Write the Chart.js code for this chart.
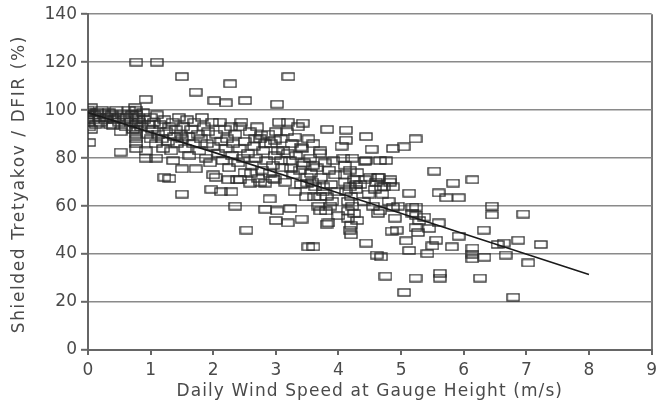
<!DOCTYPE html>
<html>
<head>
<meta charset="utf-8">
<script src="https://cdn.jsdelivr.net/npm/chart.js@4.4.1/dist/chart.umd.min.js"></script>
<style>
  html, body { margin: 0; padding: 0; background: #fff; }
  #wrap { width: 662px; height: 408px; }
</style>
</head>
<body>
<div id="wrap"><canvas id="c" width="662" height="408"></canvas></div>
<script>
// Daily catch ratio of the shielded Tretyakov gauge against the DFIR,
// plotted against daily wind speed at gauge height: [wind m/s, ratio %]
const observations = [
  [0.0,100],[0.0,98],[0.0,97],[0.0,95],[0.02,99],[0.02,93],[0.02,86.5],[0.05,92],[0.05,101],
  [0.08,96],[0.1,98],[0.12,94],[0.15,99],[0.18,97],[0.2,95],[0.22,100],[0.25,98],[0.28,96],
  [0.3,97],[0.33,99],[0.35,94],[0.38,98],[0.4,93.5],[0.42,96],[0.45,100],[0.48,97],[0.5,95],
  [0.52,91],[0.52,82.5],[0.55,98],[0.58,96],[0.6,93],
  [0.62,97],[0.65,100],[0.68,95],[0.7,98],[0.72,92],[0.75,101],[0.77,100],[0.77,98],[0.77,96],
  [0.77,94],[0.77,92],[0.77,90],[0.77,88],[0.77,86],[0.77,84],[0.77,120],[0.8,97],[0.82,95],
  [0.85,93],[0.88,99],[0.9,96],[0.92,104.5],[0.92,83],[0.92,80],[0.95,90],[0.97,94],[1.0,97],[1.0,88],
  [1.02,92],[1.05,95],[1.08,86],[1.09,80],[1.1,98],[1.1,120],[1.12,90],[1.15,94],[1.18,88],[1.2,84],
  [1.22,96],[1.22,72],[1.25,91],[1.28,87],[1.3,93],[1.3,71.5],[1.33,83],[1.35,95],[1.36,79],[1.38,89],
  [1.4,92],[1.42,86],[1.45,97],[1.48,90],[1.5,75.5],[1.5,65],[1.5,114],[1.5,88],
  [1.52,93],[1.55,84],[1.58,96],[1.6,89],[1.62,81],[1.65,92],[1.68,86],[1.7,95],[1.72,75.5],
  [1.72,107.5],[1.75,90],[1.78,83],[1.8,88],[1.82,97],[1.85,93],[1.88,80],[1.9,86],[1.92,91],
  [1.95,78],[1.97,67],[1.98,95],[2.0,73],[2.0,85],
  [2.02,104],[2.04,72],[2.05,90],[2.08,82],[2.1,95],[2.12,66],[2.13,87],[2.15,79],[2.18,92],
  [2.2,103],[2.2,84],[2.22,88],[2.24,71],[2.25,76],[2.27,111],[2.28,93],[2.29,66],[2.3,81],
  [2.32,86],[2.35,60],[2.35,90],[2.38,71],[2.4,78],[2.42,84],[2.43,93],[2.43,71],[2.45,95],
  [2.48,80],[2.5,87],[2.5,74],
  [2.51,104],[2.53,50],[2.55,82],[2.58,91],[2.59,69.6],[2.6,73.7],[2.62,77],[2.65,85],[2.67,88],
  [2.68,80],[2.7,93],[2.72,71.5],[2.75,70],[2.75,88],[2.77,89.6],[2.78,75],[2.8,83],[2.83,58.7],
  [2.83,69.6],[2.83,86],[2.85,79],[2.88,90],[2.9,63],[2.9,73.7],[2.92,86],[2.95,71.5],[2.95,77],
  [2.98,81],[2.98,87.5],[2.98,71],[3.0,54],[3.0,91],[3.02,58],[3.02,102.5],[3.03,83],
  [3.05,95],[3.08,79],[3.08,88],[3.1,76],[3.12,83],[3.15,70],[3.18,91],[3.19,53],[3.19,82],
  [3.19,95],[3.2,114],[3.22,79],[3.23,59],[3.24,75.8],[3.25,86],[3.28,73],[3.3,66],[3.3,88.8],
  [3.32,81],[3.35,93],[3.38,75],[3.4,69],[3.4,84.6],[3.41,54.6],[3.42,84],[3.43,77],[3.43,94.6],
  [3.45,78],[3.48,63.8],[3.5,72],[3.5,69.6],[3.52,43],[3.52,88],
  [3.55,80],[3.56,73.6],[3.58,70],[3.59,77],[3.6,43],[3.6,86],[3.61,63.8],[3.63,68],[3.65,76],
  [3.68,60],[3.7,82],[3.71,83],[3.71,64],[3.71,58],[3.72,72],[3.75,66],[3.76,68],[3.78,78],
  [3.8,58],[3.81,64],[3.81,52.5],[3.82,92],[3.84,53],[3.85,75],[3.87,60],[3.88,69],[3.9,62],
  [3.92,79],[3.95,73],[3.98,66],[4.0,56],
  [4.05,85],[4.08,80],[4.1,77],[4.1,73],[4.1,70],[4.12,91.7],[4.12,87.5],[4.12,66],[4.15,62],
  [4.15,58],[4.15,55],[4.18,75],[4.18,68],[4.18,50],[4.2,52],[4.2,64],[4.2,48],[4.22,80],
  [4.22,60],[4.25,71],[4.25,57],[4.28,67],[4.28,69],[4.3,54],[4.3,74],
  [4.35,69],[4.4,62],[4.42,78.7],[4.42,71],[4.44,89],[4.44,44.6],[4.44,79],[4.48,65],[4.5,72],
  [4.53,83.7],[4.55,60],[4.58,67],[4.6,70],[4.61,39.6],[4.63,57],[4.63,72],[4.65,72],[4.66,58],
  [4.66,79],[4.68,38.8],[4.68,68],[4.7,65],[4.72,68],[4.75,30.8],[4.76,79],[4.8,62],[4.82,70],
  [4.83,71],[4.85,49.6],[4.87,84],[4.87,68],[4.87,59.6],[4.9,55],[4.93,50],[4.95,60],
  [5.04,84.7],[5.05,24],[5.08,45.5],[5.13,65.4],[5.13,41.5],[5.18,57],[5.18,59.6],[5.23,88],
  [5.23,30],[5.23,51],[5.24,59.6],[5.24,56],[5.27,49],[5.29,54],[5.37,55.4],[5.42,40.2],
  [5.45,50.7],[5.5,43.4],[5.53,74.6],[5.56,45.8],[5.6,65.5],[5.6,53],[5.62,32],[5.62,30],
  [5.72,63.5],[5.81,43],[5.83,69.6],[5.92,63.5],[5.92,47.5],[6.14,71],[6.14,42.5],[6.14,40],
  [6.14,38],[6.26,30],[6.32,50],[6.33,38.7],[6.45,60],[6.45,56.3],[6.54,44],[6.64,44.6],
  [6.67,39.6],[6.79,22],[6.87,45.8],[6.95,56.7],[7.03,36.3],[7.23,44]
];

// Fitted trend of catch ratio with wind speed
const fitSpeed = [0, 2, 4, 6, 8];
const fitRatio = [99, 82.5, 65.5, 48.5, 31.5];

const xTicks = [0, 1, 2, 3, 4, 5, 6, 7, 8, 9];
const yTicks = [0, 20, 40, 60, 80, 100, 120, 140];

const xTitle = 'Daily Wind Speed at Gauge Height (m/s)';
const yTitle = 'Shielded Tretyakov / DFIR (%)';

// open rectangle used as the point marker
const marker = document.createElement('canvas');
marker.width = 14; marker.height = 9;
(function () {
  const g = marker.getContext('2d');
  g.strokeStyle = '#2a2a2a';
  g.lineWidth = 1.3;
  g.strokeRect(1, 1, 12, 7);
})();

const FONT = "'DejaVu Sans', sans-serif";
const INK = '#4a4a4a';

// axis titles, set with a little extra letter spacing
const axisTitles = {
  id: 'axisTitles',
  afterDraw(chart) {
    const { ctx, chartArea: a } = chart;
    ctx.save();
    ctx.fillStyle = INK;
    ctx.font = '17px ' + FONT;
    ctx.textAlign = 'center';
    ctx.textBaseline = 'middle';
    ctx.letterSpacing = '1.1px';
    ctx.fillText(xTitle, (a.left + a.right) / 2, 392);
    ctx.translate(20, (a.top + a.bottom) / 2 + 2);
    ctx.rotate(-Math.PI / 2);
    ctx.letterSpacing = '1.6px';
    ctx.fillText(yTitle, 0, 0);
    ctx.restore();
  }
};

new Chart(document.getElementById('c'), {
  type: 'scatter',
  data: {
    datasets: [
      {
        label: 'Observed',
        data: observations.map(p => ({ x: p[0], y: p[1] })),
        pointStyle: marker,
        pointRadius: 6,
        showLine: false,
        order: 2
      },
      {
        label: 'Fit',
        type: 'line',
        data: fitSpeed.map((s, i) => ({ x: s, y: fitRatio[i] })),
        borderColor: '#1a1a1a',
        borderWidth: 1.6,
        pointRadius: 0,
        fill: false,
        tension: 0,
        order: 1
      }
    ]
  },
  options: {
    responsive: false,
    animation: false,
    events: [],
    layout: { padding: { top: 13, right: 3, left: 0, bottom: 0 } },
    plugins: { legend: { display: false }, tooltip: { enabled: false } },
    scales: {
      x: {
        type: 'linear',
        min: 0, max: 9,
        afterBuildTicks: ax => { ax.ticks = xTicks.map(v => ({ value: v })); },
        afterFit: ax => { ax.height = 58; },
        border: { color: '#666', width: 2 },
        grid: {
          color: c => (c.tick && c.tick.value === 9) ? '#777' : 'rgba(0,0,0,0)',
          lineWidth: 2,
          drawTicks: true,
          tickLength: 5,
          tickColor: '#666',
          tickWidth: 2
        },
        ticks: { color: INK, font: { family: FONT, size: 17 }, padding: 5, maxRotation: 0 },
        title: { display: false }
      },
      y: {
        type: 'linear',
        min: 0, max: 140,
        afterBuildTicks: ax => { ax.ticks = yTicks.map(v => ({ value: v })); },
        afterFit: ax => { ax.width = 88; },
        border: { color: '#666', width: 2 },
        grid: {
          color: '#8a8a8a',
          lineWidth: 1.6,
          drawTicks: true,
          tickLength: 7,
          tickColor: '#666',
          tickWidth: 2
        },
        ticks: { color: INK, font: { family: FONT, size: 17 }, padding: 4 },
        title: { display: false }
      }
    }
  },
  plugins: [axisTitles]
});
</script>
</body>
</html>
